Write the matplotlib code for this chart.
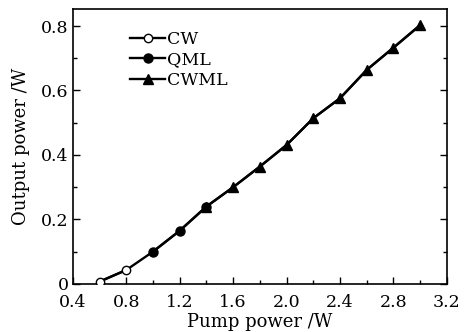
import numpy as np
import matplotlib
matplotlib.use("Agg")
import matplotlib.pyplot as plt
from matplotlib.ticker import MultipleLocator

plt.rcParams['font.family'] = ['DejaVu Serif']
plt.rcParams['mathtext.fontset'] = 'dejavuserif'

# Messdaten
cw_x = [0.6, 0.8]
cw_y = [0.007, 0.043]
qml_x = [1.0, 1.2, 1.4]
qml_y = [0.100, 0.165, 0.240]
cwml_x = [1.4, 1.6, 1.8, 2.0, 2.2, 2.4, 2.6, 2.8, 3.0]
cwml_y = [0.240, 0.300, 0.364, 0.431, 0.514, 0.576, 0.664, 0.733, 0.803]

xticks = [0.4, 0.8, 1.2, 1.6, 2.0, 2.4, 2.8, 3.2]
xticklabels = ['0.4', '0.8', '1.2', '1.6', '2.0', '2.4', '2.8', '3.2']
yticks = [0, 0.2, 0.4, 0.6, 0.8]
yticklabels = ['0', '0.2', '0.4', '0.6', '0.8']

fig = plt.figure(figsize=(4.67, 3.32), dpi=100)
ax = fig.add_axes([0.156, 0.145, 0.801, 0.828])

# durchgehende Kurve
alle_x = cw_x + qml_x + cwml_x[1:]
alle_y = cw_y + qml_y + cwml_y[1:]
ax.plot(alle_x, alle_y, color='black', lw=1.7, zorder=2)

ax.plot(cw_x, cw_y, color='black', lw=1.7, marker='o', mfc='white', mec='black',
        ms=6, mew=1.0, label='CW', zorder=3)
ax.plot(qml_x, qml_y, color='black', lw=1.7, marker='o', mfc='black', mec='black',
        ms=6.5, label='QML', zorder=3)
ax.plot(cwml_x, cwml_y, color='black', lw=1.7, marker='^', mfc='black', mec='black',
        ms=7, label='CWML', zorder=4)

ax.set_xlim(0.4, 3.2)
ax.set_ylim(0, 0.853)
ax.set_xticks(xticks)
ax.set_xticklabels(xticklabels)
ax.set_yticks(yticks)
ax.set_yticklabels(yticklabels)
ax.xaxis.set_minor_locator(MultipleLocator(0.2))
ax.yaxis.set_minor_locator(MultipleLocator(0.1))
ax.tick_params(which='both', direction='in', right=True, top=False, labelsize=12.5)
ax.tick_params(axis='x', which='both', pad=7.5)
ax.tick_params(axis='y', which='both', pad=3)
ax.tick_params(which='major', length=5, width=1)
ax.tick_params(which='minor', length=3, width=1)
for s in ax.spines.values():
    s.set_linewidth(1.2)

ax.set_xlabel('Pump power /W', fontsize=13, labelpad=1)
ax.set_ylabel('Output power /W', fontsize=13, labelpad=8)

ax.legend(loc='upper left', bbox_to_anchor=(0.135, 0.945), frameon=False, fontsize=12.5,
          handlelength=2.0, handletextpad=0.1, labelspacing=0.2, borderaxespad=0)

fig.savefig('out.png', dpi=100)
